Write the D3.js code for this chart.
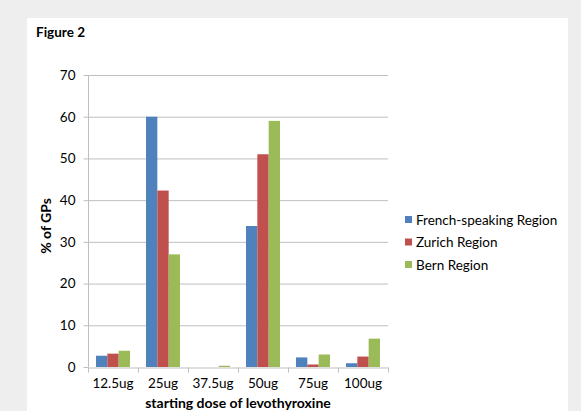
<!DOCTYPE html>
<html>
<head>
<meta charset="utf-8">
<script src="https://cdn.jsdelivr.net/npm/d3@7"></script>
<style>
	body { margin: 0; background: #eeeeee; }
	svg { display: block; }
	text { font-family: Lato, "Open Sans", sans-serif; fill: #000; }
</style>
</head>
<body>
<div id="chart"></div>
<script>
	// Data
	let doses = ['12.5ug', '25ug', '37.5ug', '50ug', '75ug', '100ug'];
	let regions = ['French-speaking Region', 'Zurich Region', 'Bern Region'];
	let french = [2.7, 60, 0, 33.8, 2.3, 0.9];
	let zurich = [3.2, 42.3, 0, 51, 0.6, 2.5];
	let bern = [3.9, 27, 0.3, 59, 3, 6.8];
	let yTicks = [0, 10, 20, 30, 40, 50, 60, 70];
	let colors = ['#4f81bd', '#c0504d', '#9bbb59'];

	let series = [french, zurich, bern];

	var width = 581, height = 411;
	var margin = { left: 88, right: 193, top: 75, bottom: 44 };

	var svg = d3.select('#chart').append('svg')
		.attr('width', width)
		.attr('height', height);

	// white panel
	svg.append('rect')
		.attr('x', 27).attr('y', 18)
		.attr('width', 541).attr('height', height - 18)
		.attr('fill', '#fff');

	svg.append('text')
		.attr('x', 36).attr('y', 37)
		.style('font-weight', 'bold')
		.style('font-size', '13.5px')
		.text('Figure 2');

	var x = d3.scaleBand()
		.domain(doses)
		.range([margin.left, width - margin.right])
		.paddingInner(0.32)
		.paddingOuter(0.16);

	var xSub = d3.scaleBand()
		.domain(d3.range(regions.length))
		.range([0, x.bandwidth()]);

	var y = d3.scaleLinear()
		.domain([0, 70])
		.range([height - margin.bottom, margin.top]);

	// grid lines
	svg.append('g')
		.selectAll('line')
		.data(yTicks.filter(function(d) { return d > 0; }))
		.enter().append('line')
		.attr('x1', margin.left).attr('x2', width - margin.right)
		.attr('y1', function(d) { return y(d) + 0.5; })
		.attr('y2', function(d) { return y(d) + 0.5; })
		.attr('stroke', '#bfbfbf')
		.attr('stroke-width', 1);

	// y axis
	var yAxis = svg.append('g')
		.attr('transform', 'translate(' + (margin.left + 0.5) + ',0)')
		.call(d3.axisLeft(y).tickValues(yTicks).tickSize(5).tickPadding(8));
	yAxis.selectAll('line, path').attr('stroke', '#bfbfbf');
	yAxis.select('.domain').attr('d', 'M0,' + y(0) + 'V' + y(70));
	yAxis.selectAll('text')
		.style('font-family', 'Lato, "Open Sans", sans-serif')
		.style('font-size', '13.5px')
		.attr('fill', '#000');

	// bars
	var groups = svg.append('g')
		.selectAll('g')
		.data(doses)
		.enter().append('g')
		.attr('transform', function(d) { return 'translate(' + x(d) + ',0)'; });

	groups.selectAll('rect')
		.data(function(d, i) {
			return series.map(function(s, j) { return { k: j, v: s[i] }; });
		})
		.enter().append('rect')
		.attr('x', function(d) { return xSub(d.k); })
		.attr('width', xSub.bandwidth())
		.attr('y', function(d) { return y(d.v); })
		.attr('height', function(d) { return y(0) - y(d.v); })
		.attr('fill', function(d) { return colors[d.k]; });

	// x axis
	var xAxis = svg.append('g')
		.attr('transform', 'translate(0,' + (y(0) + 0.5) + ')')
		.call(d3.axisBottom(x).tickSize(0).tickPadding(11));
	xAxis.select('.domain').attr('stroke', '#bfbfbf');
	xAxis.selectAll('text')
		.style('font-family', 'Lato, "Open Sans", sans-serif')
		.style('font-size', '13.5px')
		.attr('fill', '#000');
	// tick marks at the category boundaries
	var step = x.step();
	xAxis.selectAll('.sep')
		.data(d3.range(doses.length + 1))
		.enter().append('line')
		.attr('class', 'sep')
		.attr('x1', function(i) { return margin.left + i * step + 0.5; })
		.attr('x2', function(i) { return margin.left + i * step + 0.5; })
		.attr('y1', 0).attr('y2', 5)
		.attr('stroke', '#bfbfbf');

	svg.append('text')
		.attr('x', x.range()[0] + (x.range()[1] - x.range()[0]) / 2)
		.attr('y', 408)
		.attr('text-anchor', 'middle')
		.style('font-weight', 'bold')
		.style('font-size', '14px')
		.text('starting dose of levothyroxine');

	svg.append('text')
		.attr('transform', 'translate(51,226) rotate(-90)')
		.attr('text-anchor', 'middle')
		.style('font-weight', 'bold')
		.style('font-size', '14px')
		.text('% of GPs');

	// legend
	var legend = svg.append('g')
		.selectAll('g')
		.data(regions)
		.enter().append('g')
		.attr('transform', function(d, i) { return 'translate(405,' + (220 + i * 22.5) + ')'; });

	legend.append('rect')
		.attr('x', 0).attr('y', -4)
		.attr('width', 7).attr('height', 7)
		.attr('fill', function(d, i) { return colors[i]; });

	legend.append('text')
		.attr('x', 11).attr('y', 0)
		.attr('dy', '0.35em')
		.style('font-size', '13.5px')
		.text(function(d) { return d; });
</script>
</body>
</html>
